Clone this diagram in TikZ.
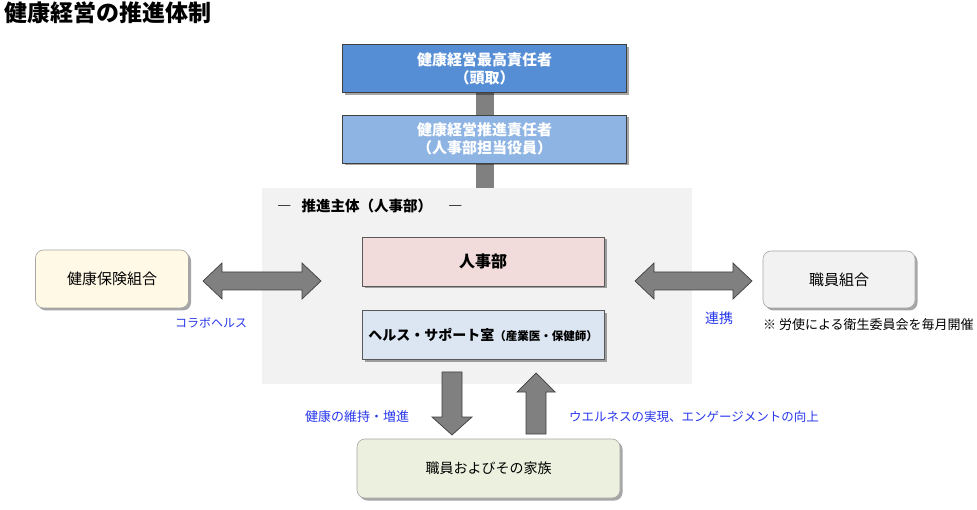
\documentclass[tikz,border=0pt]{standalone}
\usepackage{fontspec}
\setmainfont{Noto Sans CJK JP}
\usetikzlibrary{shadows}

\definecolor{topblue}{RGB}{85,142,213}
\definecolor{subblue}{RGB}{142,180,227}
\definecolor{areagray}{RGB}{242,242,242}
\definecolor{jinjipink}{RGB}{242,220,219}
\definecolor{supportblue}{RGB}{220,230,242}
\definecolor{kenpocream}{RGB}{255,249,230}
\definecolor{kumiaigray}{RGB}{242,242,242}
\definecolor{kazokugreen}{RGB}{235,241,222}
\definecolor{linkblue}{RGB}{40,55,235}
\definecolor{arrowgray}{RGB}{128,128,128}

\begin{document}
\begin{tikzpicture}[x=1pt,y=-1pt,
    every node/.style={inner sep=0pt},
    shade box/.style={drop shadow={shadow xshift=2.5pt,shadow yshift=-2.5pt,fill=black,opacity=0.35}},
    headbox/.style={shade box, draw=black!75, line width=0.8pt, text=white,
        font=\bfseries\fontsize{15}{18}\selectfont, align=center,
        minimum width=284pt, minimum height=48pt},
    innerbox/.style={shade box, draw=black!65, line width=0.6pt,
        minimum width=242pt, minimum height=49pt},
    outerbox/.style={shade box, draw=black!35, line width=0.6pt, rounded corners=8pt,
        font=\fontsize{15}{18}\selectfont},
    linklabel/.style={text=linkblue, font=\fontsize{13}{16}\selectfont},
    fatarrow/.style={draw=black!75, fill=arrowgray, line width=0.7pt, line join=miter},
    bar/.style={draw=none, fill=arrowgray}]
    \useasboundingbox (0,0) rectangle (977,510);

    % title
    \node (title) [anchor=west, font=\bfseries\fontsize{23}{25}\selectfont] at (4,13) {健康経営の推進体制};

    % area of the promoting body
    \node (area) [fill=areagray, minimum width=430pt, minimum height=196pt] at (476.5,286) {};
    \node (area label) [anchor=west, font=\bfseries\fontsize{14.5}{16}\selectfont] at (277,206) {―\hspace{10pt}推進主体（人事部）\hspace{16pt}―};

    % vertical bars between the heads
    \fill[bar] (475.5,92) rectangle (493.5,188);

    % heads
    \node (saiko) [headbox, fill=topblue] at (484.5,68.5) {健康経営最高責任者\\（頭取）};
    \node (suishin) [headbox, fill=subblue] at (484.5,139) {健康経営推進責任者\\（人事部担当役員）};

    % inside the area
    \node (jinji) [innerbox, fill=jinjipink, font=\bfseries\fontsize{16}{18}\selectfont] at (483,261.5) {人事部};
    \node (support) [innerbox, fill=supportblue] at (483,335)
        {\bfseries\fontsize{14}{16}\selectfont ヘルス・サポート室\fontsize{11.5}{16}\selectfont（産業医・保健師）};

    % partners
    \node (kenpo) [outerbox, fill=kenpocream, minimum width=153pt, minimum height=58pt] at (112,279) {健康保険組合};
    \node (kumiai) [outerbox, fill=kumiaigray, minimum width=152pt, minimum height=57pt] at (839,279.5) {職員組合};
    \node (kazoku) [outerbox, fill=kazokugreen, minimum width=263pt, minimum height=59pt, font=\fontsize{14}{18}\selectfont] at (488.5,468.5) {職員およびその家族};

    % fat arrows
    \coordinate (collab end) at (203,281);
    \draw[fatarrow] (collab end) -- ++(19,-18) -- ++(0,9) -- ++(80,0) -- ++(0,-9) -- ++(19,18)
        -- ++(-19,18) -- ++(0,-9) -- ++(-80,0) -- ++(0,9) -- cycle;
    \coordinate (renkei end) at (635,281);
    \draw[fatarrow] (renkei end) -- ++(19,-18) -- ++(0,9) -- ++(79,0) -- ++(0,-9) -- ++(19,18)
        -- ++(-19,18) -- ++(0,-9) -- ++(-79,0) -- ++(0,9) -- cycle;
    \coordinate (down end) at (442,372);
    \draw[fatarrow] (down end) -- ++(20,0) -- ++(0,45) -- ++(10,0) -- ++(-20,18)
        -- ++(-20,-18) -- ++(10,0) -- cycle;
    \coordinate (up end) at (536,373);
    \draw[fatarrow] (up end) -- ++(19,19) -- ++(-9,0) -- ++(0,42) -- ++(-20,0)
        -- ++(0,-42) -- ++(-9,0) -- cycle;

    % labels
    \node (collab) [linklabel, font=\fontsize{12}{14}\selectfont] at (211,323) {コラボヘルス};
    \node (renkei) [linklabel, font=\fontsize{14}{16}\selectfont] at (719,318) {連携};
    \node (eisei) [anchor=west, font=\fontsize{13}{15}\selectfont] at (763,325) {※ 労使による衛生委員会を毎月開催};
    \node (iji) [linklabel] at (357,417) {健康の維持・増進};
    \node (wellness) [linklabel, font=\fontsize{12.5}{15}\selectfont] at (694,417) {ウエルネスの実現、エンゲージメントの向上};
\end{tikzpicture}
\end{document}
